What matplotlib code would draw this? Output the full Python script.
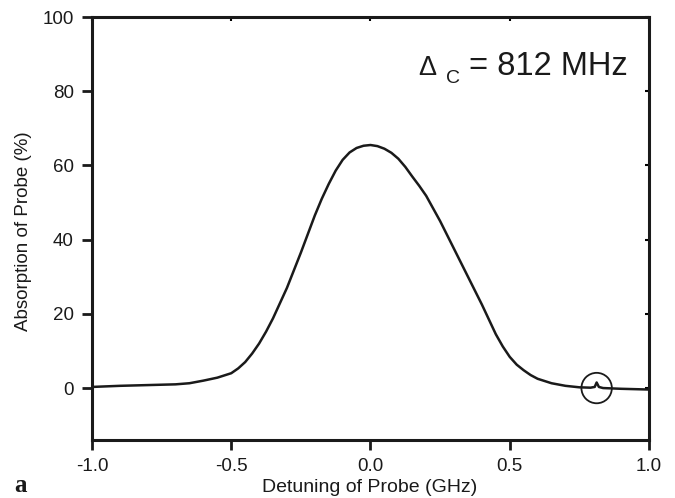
import matplotlib
matplotlib.use("Agg")
import matplotlib.pyplot as plt

plt.rcParams['font.family'] = ['Liberation Sans', 'DejaVu Sans']

# Data
detuning = [-1.0, -0.9, -0.8, -0.7, -0.65, -0.6, -0.55, -0.5, -0.475, -0.45, -0.425, -0.4, -0.375,
            -0.35, -0.3, -0.25, -0.2, -0.175, -0.15, -0.125, -0.1, -0.075, -0.05, -0.025,
            0.0, 0.025, 0.05, 0.075, 0.1, 0.125, 0.15, 0.175, 0.2, 0.25, 0.3, 0.35, 0.4,
            0.425, 0.45, 0.475, 0.5, 0.525, 0.55, 0.575, 0.6, 0.65, 0.7, 0.75, 0.79,
            0.805, 0.812, 0.82, 0.835, 0.9, 0.95, 1.0]
absorption = [0.3, 0.6, 0.8, 1.0, 1.3, 2.0, 2.8, 4.0, 5.3, 7.0, 9.3, 12.0, 15.2,
              18.8, 27.0, 36.5, 46.5, 51.0, 55.0, 58.6, 61.5, 63.5, 64.7, 65.3,
              65.5, 65.2, 64.5, 63.4, 61.8, 59.6, 57.0, 54.5, 51.8, 45.0, 37.5, 30.0, 22.5,
              18.5, 14.5, 11.2, 8.4, 6.3, 4.8, 3.5, 2.5, 1.3, 0.6, 0.2, 0.1,
              0.3, 1.5, 0.3, 0.0, -0.2, -0.3, -0.4]
marker_x = [0.812]
marker_y = [0.0]

xticks = [-1.0, -0.5, 0.0, 0.5, 1.0]
xticklabels = ['-1.0', '-0.5', '0.0', '0.5', '1.0']
yticks = [0, 20, 40, 60, 80, 100]

W, H = 675, 498
fig = plt.figure(figsize=(W / 100, H / 100), dpi=100)
ax = fig.add_axes([92 / W, 1 - 440 / H, (649 - 92) / W, (440 - 17) / H])

ax.plot(detuning, absorption, color='#1a1a1a', lw=1.8)
ax.scatter(marker_x, marker_y, s=480, facecolors='none', edgecolors='#1a1a1a', linewidths=1.3, zorder=3)

ax.set_xlim(-1.0, 1.0)
ax.set_ylim(-14, 100)
ax.set_xticks(xticks)
ax.set_xticklabels(xticklabels)
ax.set_yticks(yticks)

for s in ax.spines.values():
    s.set_linewidth(2.2)
    s.set_color('#1a1a1a')

ax.tick_params(axis='both', which='major', direction='out', length=7, width=2.0,
               labelsize=13.5, colors='#1a1a1a', pad=6)
# small inward ticks on top/right
sec_x = ax.secondary_xaxis('top')
sec_x.set_xticks(xticks)
sec_x.tick_params(direction='in', length=3, width=1.5, labeltop=False)
sec_x.spines['top'].set_visible(False)
sec_y = ax.secondary_yaxis('right')
sec_y.set_yticks(yticks)
sec_y.tick_params(direction='in', length=3, width=1.5, labelright=False)
sec_y.spines['right'].set_visible(False)

fig.text(370 / W, 1 - 487 / H, 'Detuning of Probe (GHz)', ha='center', va='center',
         fontsize=14, color='#1a1a1a')
fig.text(24 / W, 1 - 231 / H, 'Absorption of Probe (%)', ha='center', va='center',
         rotation=90, fontsize=13.5, color='#1a1a1a')

fig.text(418 / W, 1 - 75 / H, '\u0394', ha='left', va='baseline', fontsize=19.5, color='#1a1a1a')
fig.text(446 / W, 1 - 83 / H, 'C', ha='left', va='baseline', fontsize=14, color='#1a1a1a')
fig.text(469 / W, 1 - 75 / H, '= 812 MHz', ha='left', va='baseline', fontsize=23.5, color='#1a1a1a')

fig.text(14 / W, 1 - 492 / H, 'a', ha='left', va='baseline', fontsize=18, fontweight='bold',
         family=['Liberation Serif', 'DejaVu Serif'], color='#1a1a1a')

fig.savefig('out.png', dpi=100)
